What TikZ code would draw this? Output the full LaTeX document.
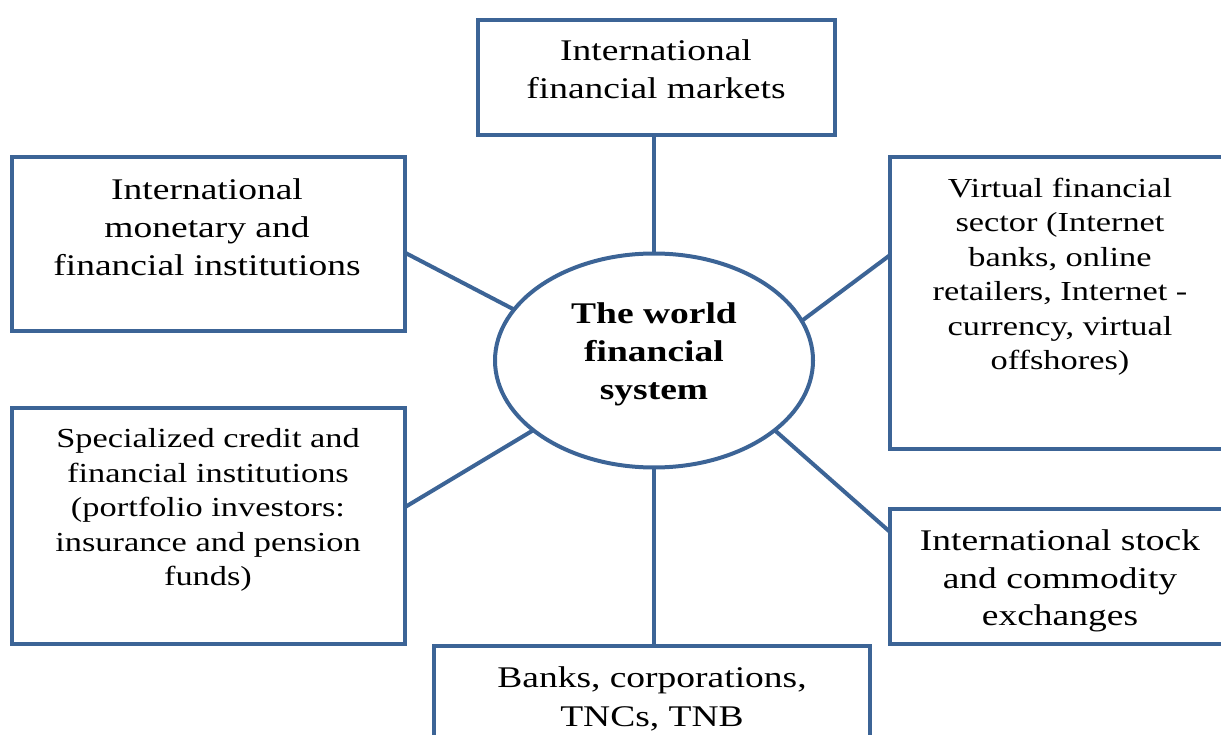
\documentclass[tikz,border=0pt]{standalone}
\usepackage{fontspec}
\setmainfont{Liberation Serif}[FakeStretch=1.25]
\usetikzlibrary{shapes.geometric,calc}
\definecolor{frame}{RGB}{60,100,150}
\begin{document}
\begin{tikzpicture}[x=1pt,y=-1pt,
  box/.style={draw=frame,line width=4pt,rectangle,inner sep=0pt,outer sep=0pt},
  conn/.style={draw=frame,line width=4pt},
  big/.style={align=center,inner sep=0pt,anchor=north,font=\fontsize{30}{38}\selectfont},
  small/.style={align=center,inner sep=0pt,anchor=north,font=\fontsize{27.5}{34.5}\selectfont}]
\useasboundingbox (0,0) rectangle (1221,735);
\clip (0,0) rectangle (1221,735);
% boxes
\node[box,minimum width=357pt,minimum height=115pt] (top) at (656.5,77.5) {};
\node[box,minimum width=393pt,minimum height=174pt] (lu) at (208.5,244) {};
\node[box,minimum width=345pt,minimum height=292pt] (ru) at (1062.5,303) {};
\node[box,minimum width=393pt,minimum height=236pt] (ll) at (208.5,526) {};
\node[box,minimum width=345pt,minimum height=135pt] (rl) at (1062.5,576.5) {};
\node[box,minimum width=436pt,minimum height=114pt] (bot) at (652,703) {};
\node[draw=frame,line width=4pt,ellipse,inner sep=0pt,outer sep=0pt,
      minimum width=318pt,minimum height=214pt] (ell) at (654,360.5) {};
% texts
\node[big] (topT) at (656,39.5) {International\\financial markets};
\node[big] (luT) at (207,178.5) {International\\monetary and\\financial institutions};
\node[small] (ruT) at (1060,177.6) {Virtual financial\\sector (Internet\\banks, online\\retailers, Internet -\\currency, virtual\\offshores)};
\node[small] (llT) at (208,428.6) {Specialized credit and\\financial institutions\\(portfolio investors:\\insurance and pension\\funds)};
\node[big,font=\fontsize{30}{37.5}\selectfont] (rlT) at (1060,529.5) {International stock\\and commodity\\exchanges};
\node[big,font=\fontsize{30}{39}\selectfont] (botT) at (652,666.5) {Banks, corporations,\\TNCs, TNB};
\node[big,font=\fontsize{30}{38}\selectfont\bfseries] (ellT) at (654,302.7) {The world\\financial\\system};
% attachment points
\coordinate (luC) at ($(lu.north east)!0.55!(lu.south east)$);
\coordinate (ruC) at ($(ru.north west)!0.336!(ru.south west)$);
\coordinate (llC) at ($(ll.north east)!0.42!(ll.south east)$);
\coordinate (rlC) at ($(rl.north west)!0.17!(rl.south west)$);
% connectors
\draw[conn] (ell.north) -- (ell.north |- top.south);
\draw[conn] (ell.south) -- (ell.south |- bot.north);
\draw[conn] (ell.160) -- (luC);
\draw[conn] (ell.15.7) -- (ruC);
\draw[conn] (ell.210.4) -- (llC);
\draw[conn] (ell.330.5) -- (rlC);
\end{tikzpicture}
\end{document}
